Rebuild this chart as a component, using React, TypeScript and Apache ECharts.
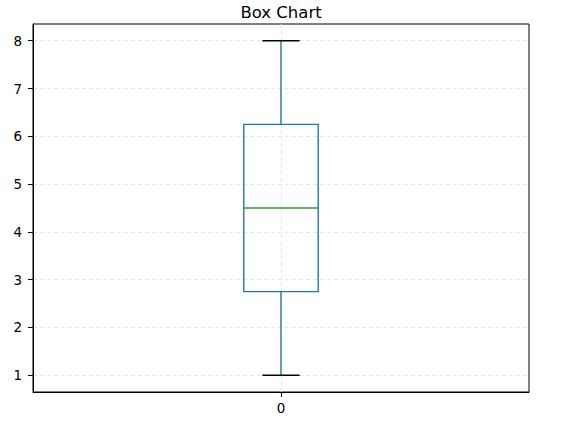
import React, { useEffect, useRef } from "react";
import * as echarts from "echarts";

const categories = ["0"];
const categoryPositions = [1];
const boxStats = [[1, 2.75, 4.5, 6.25, 8]]; // min, q1, median, q3, max
const yTicks = [1, 2, 3, 4, 5, 6, 7, 8];

export default function App() {
  const ref = useRef<HTMLDivElement>(null);
  useEffect(() => {
    document.body.style.margin = "0";
    const chart = echarts.init(ref.current!, null, { renderer: "svg" });
    const font = "DejaVu Sans";
    const data = boxStats.map((s, i) => [categoryPositions[i], ...s]);
    chart.setOption({
      animation: false,
      title: {
        text: "Box Chart",
        left: "center",
        top: -1,
        textStyle: { fontFamily: font, fontSize: 16.5, fontWeight: "normal", color: "#000" },
      },
      grid: {
        left: 33, top: 24, width: 496, height: 368,
        show: true, borderColor: "#000", borderWidth: 1, backgroundColor: "transparent",
      },
      xAxis: {
        type: "value", min: 0.5, max: 1.5,
        axisLine: { show: true, lineStyle: { color: "#000" } },
        axisTick: { show: true, length: 5, customValues: categoryPositions, lineStyle: { color: "#000" } },
        axisLabel: {
          show: true, customValues: categoryPositions, margin: 9,
          fontFamily: font, fontSize: 13.5, color: "#000",
          formatter: (v: number) => categories[categoryPositions.indexOf(v)] ?? "",
        },
        splitLine: { show: true, lineStyle: { color: "#e6e6e6", type: [4, 3] } },
      },
      yAxis: {
        type: "value", min: 0.65, max: 8.35,
        axisLine: { show: true, lineStyle: { color: "#000" } },
        axisTick: { show: true, length: 5, customValues: yTicks, lineStyle: { color: "#000" } },
        axisLabel: {
          show: true, customValues: yTicks, margin: 11,
          fontFamily: font, fontSize: 13.5, color: "#000",
        },
        splitLine: { show: true, lineStyle: { color: "#e6e6e6", type: [4, 3] } },
      },
      series: [
        {
          type: "custom",
          data,
          renderItem: (params: any, api: any) => {
            const x = api.value(0);
            const mn = api.value(1), q1 = api.value(2), md = api.value(3), q3 = api.value(4), mx = api.value(5);
            const halfBox = 0.075, halfCap = 0.0375;
            const pL = api.coord([x - halfBox, q3]);
            const pR = api.coord([x + halfBox, q1]);
            const c = (xx: number, yy: number) => api.coord([xx, yy]);
            const blue = "#1f77b4";
            const lw = 1.4;
            return {
              type: "group",
              children: [
                { type: "rect", shape: { x: pL[0], y: pL[1], width: pR[0] - pL[0], height: pR[1] - pL[1] }, style: { fill: "none", stroke: blue, lineWidth: lw } },
                { type: "line", shape: { x1: c(x, q3)[0], y1: c(x, q3)[1], x2: c(x, mx)[0], y2: c(x, mx)[1] }, style: { stroke: blue, lineWidth: lw } },
                { type: "line", shape: { x1: c(x, q1)[0], y1: c(x, q1)[1], x2: c(x, mn)[0], y2: c(x, mn)[1] }, style: { stroke: blue, lineWidth: lw } },
                { type: "line", shape: { x1: c(x - halfCap, mx)[0], y1: c(x, mx)[1], x2: c(x + halfCap, mx)[0], y2: c(x, mx)[1] }, style: { stroke: "#000", lineWidth: lw } },
                { type: "line", shape: { x1: c(x - halfCap, mn)[0], y1: c(x, mn)[1], x2: c(x + halfCap, mn)[0], y2: c(x, mn)[1] }, style: { stroke: "#000", lineWidth: lw } },
                { type: "line", shape: { x1: c(x - halfBox, md)[0], y1: c(x, md)[1], x2: c(x + halfBox, md)[0], y2: c(x, md)[1] }, style: { stroke: "#2ca02c", lineWidth: lw } },
              ],
            };
          },
        },
      ],
    });
    return () => chart.dispose();
  }, []);
  return <div ref={ref} style={{ width: 562, height: 424, position: "absolute", left: 0, top: 0 }} />;
}
